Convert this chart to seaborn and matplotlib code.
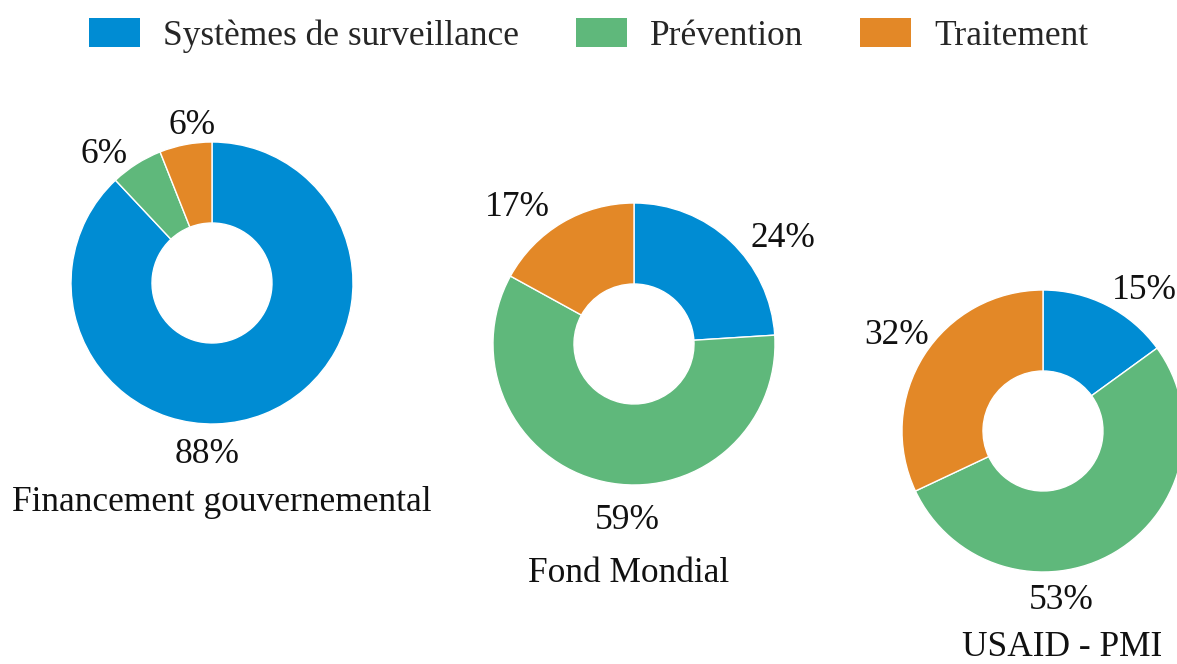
import matplotlib
matplotlib.use("Agg")
import matplotlib.pyplot as plt
import seaborn as sns
from matplotlib.patches import Patch

# data
categories = ["Systèmes de surveillance", "Prévention", "Traitement"]
sources = ["Financement gouvernemental", "Fond Mondial", "USAID - PMI"]
gouvernement = [88, 6, 6]
fond_mondial = [24, 59, 17]
usaid_pmi = [15, 53, 32]
palette = sns.color_palette(["#008cd3", "#5fb87b", "#e38827"])

sns.set_theme(style="white")
plt.rcParams["font.family"] = ["Liberation Serif", "DejaVu Serif"]
FS = 25.5

W, H = 1177, 664
fig = plt.figure(figsize=(W / 100, H / 100), dpi=100)
ax = fig.add_axes([0, 0, 1, 1])

# layout in image pixels (y from top): donut centre, label centres, title baseline
layout = [
    dict(c=(212, 283), labels=[(207, 451), (104, 151), (192, 122)], title=(222, 511)),
    dict(c=(634, 344), labels=[(783, 235), (627, 517), (517, 204)], title=(629, 582)),
    dict(c=(1043, 431), labels=[(1144, 287), (1061, 597), (897, 332)], title=(1062, 656)),
]
R_OUT, R_IN = 141, 60

for vals, name, lay in zip([gouvernement, fond_mondial, usaid_pmi], sources, layout):
    cx, cy = lay["c"]
    ax.pie(vals, colors=palette, startangle=90, counterclock=False,
           radius=R_OUT, center=(cx, H - cy),
           wedgeprops=dict(width=R_OUT - R_IN, edgecolor="white", linewidth=1))
    for v, (lx, ly) in zip(vals, lay["labels"]):
        ax.text(lx, H - ly - 12, f"{v}%", ha="center", va="baseline",
                fontsize=FS, color="#111111")
    tx, ty = lay["title"]
    ax.text(tx, H - ty, name, ha="center", va="baseline", fontsize=FS, color="#111111")

ax.set_xlim(0, W)
ax.set_ylim(0, H)
ax.set_aspect("equal")
ax.axis("off")

handles = [Patch(facecolor=c, edgecolor="none") for c in palette]
fig.legend(handles, categories, loc="upper center", bbox_to_anchor=(0.5, 1 - 4 / H),
           ncol=3, frameon=False, fontsize=FS, handlelength=1.44, handleheight=0.87,
           handletextpad=0.65, columnspacing=1.6, borderaxespad=0.0)

fig.savefig("out.png", dpi=100)
